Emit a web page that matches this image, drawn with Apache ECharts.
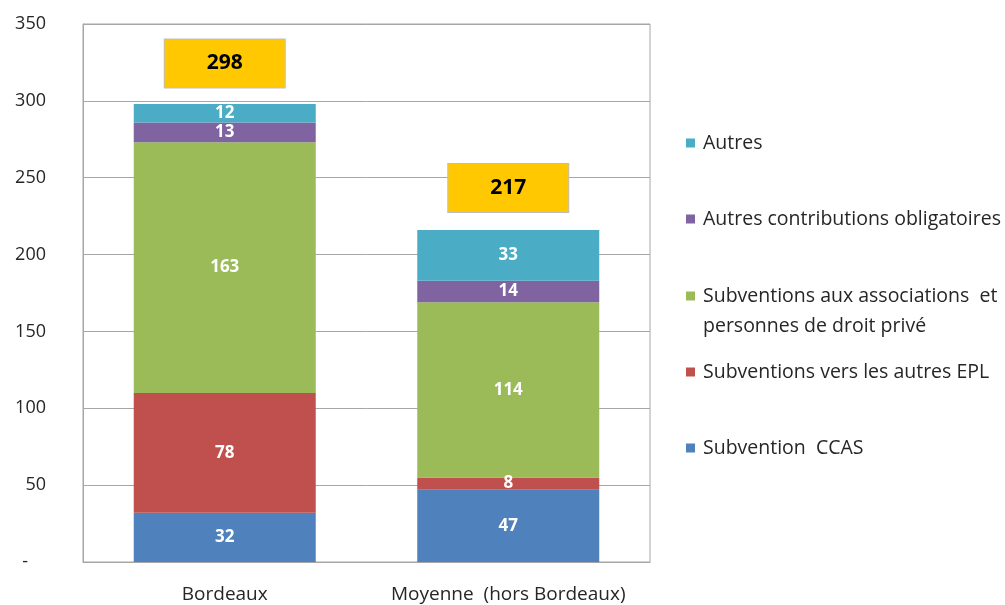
<!DOCTYPE html>
<html>
<head>
<meta charset="utf-8">
<script src="https://cdn.jsdelivr.net/npm/echarts@6/dist/echarts.min.js"></script>
<style>
    html, body { margin: 0; padding: 0; background: #fff; }
    #chart { width: 1005px; height: 605px; }
</style>
</head>
<body>
<div id="chart"></div>
<script>
    // données
    var categories = ['Bordeaux', 'Moyenne  (hors Bordeaux)'];
    var ccas = [32, 47];
    var epl = [78, 8];
    var associations = [163, 114];
    var contributions = [13, 14];
    var autres = [12, 33];
    var totals = [298, 217];
    var yTicks = [0, 50, 100, 150, 200, 250, 300, 350];

    var FONT = 'Open Sans';
    var gridColor = '#A6A6A6';

    var chart = echarts.init(document.getElementById('chart'), null, { renderer: 'canvas' });

    function segment(name, data, color) {
        return {
            name: name,
            type: 'bar',
            stack: 'total',
            barWidth: 182,
            data: data,
            itemStyle: { color: color },
            label: {
                show: true,
                position: 'inside',
                color: '#fff',
                fontFamily: FONT,
                fontWeight: 'bold',
                fontSize: 17
            }
        };
    }

    function legendAt(name, top, lineHeight) {
        return {
            data: [name],
            left: 686,
            top: top,
            padding: 0,
            orient: 'vertical',
            icon: 'rect',
            itemWidth: 9,
            itemHeight: 9,
            itemGap: 0,
            selectedMode: false,
            textStyle: {
                fontFamily: FONT, fontSize: 19.5, color: '#262626',
                lineHeight: lineHeight, padding: [0, 0, 0, 3]
            }
        };
    }

    var nAutres = 'Autres';
    var nContrib = 'Autres contributions obligatoires';
    var nAssoc = 'Subventions aux associations  et';
    var nEpl = 'Subventions vers les autres EPL';
    var nCcas = 'Subvention  CCAS';

    var option = {
        animation: false,
        backgroundColor: '#fff',
        grid: {
            left: 83, right: 355, top: 24, bottom: 43,
            show: true, borderColor: gridColor, borderWidth: 1
        },
        legend: [
            legendAt(nAutres, 133, 20),
            legendAt(nContrib, 209, 20),
            Object.assign(legendAt(nAssoc, 251, 30), {
                formatter: function (n) { return '\n' + n + '\npersonnes de droit privé'; }
            }),
            legendAt(nEpl, 362, 20),
            legendAt(nCcas, 438, 20)
        ],
        xAxis: {
            type: 'category',
            data: categories,
            axisLine: { lineStyle: { color: gridColor } },
            axisTick: { show: false },
            axisLabel: { interval: 0, fontFamily: FONT, fontSize: 19, color: '#262626', margin: 23 }
        },
        yAxis: {
            type: 'value',
            min: yTicks[0],
            max: yTicks[yTicks.length - 1],
            interval: 50,
            axisLine: { show: true, lineStyle: { color: gridColor } },
            axisTick: { show: false },
            splitLine: { lineStyle: { color: gridColor, width: 1 } },
            axisLabel: {
                fontFamily: FONT, fontSize: 18, color: '#262626', margin: 37,
                formatter: function (v) { return v === 0 ? '{d|-}' : String(v); },
                rich: { d: { fontFamily: FONT, fontSize: 18, color: '#262626', padding: [0, 18, 0, 0] } }
            }
        },
        series: [
            segment(nCcas, ccas, '#4F81BD'),
            segment(nEpl, epl, '#C0504D'),
            segment(nAssoc, associations, '#9BBB59'),
            segment(nContrib, contributions, '#8064A2'),
            segment(nAutres, autres, '#4BACC6'),
            {
                name: 'Total',
                type: 'scatter',
                data: totals,
                symbolSize: 1,
                itemStyle: { color: 'transparent', opacity: 1 },
                label: {
                    show: true,
                    position: 'top',
                    distance: 16,
                    formatter: '{c}',
                    backgroundColor: '#FFC800',
                    borderColor: '#BFBFBF',
                    borderWidth: 1,
                    width: 120,
                    height: 48,
                    lineHeight: 48,
                    align: 'center',
                    color: '#000',
                    fontFamily: FONT,
                    fontWeight: 'bold',
                    fontSize: 21
                }
            }
        ]
    };

    chart.setOption(option);
    window.addEventListener('resize', function () {
        chart.resize();
    });
</script>
</body>
</html>
